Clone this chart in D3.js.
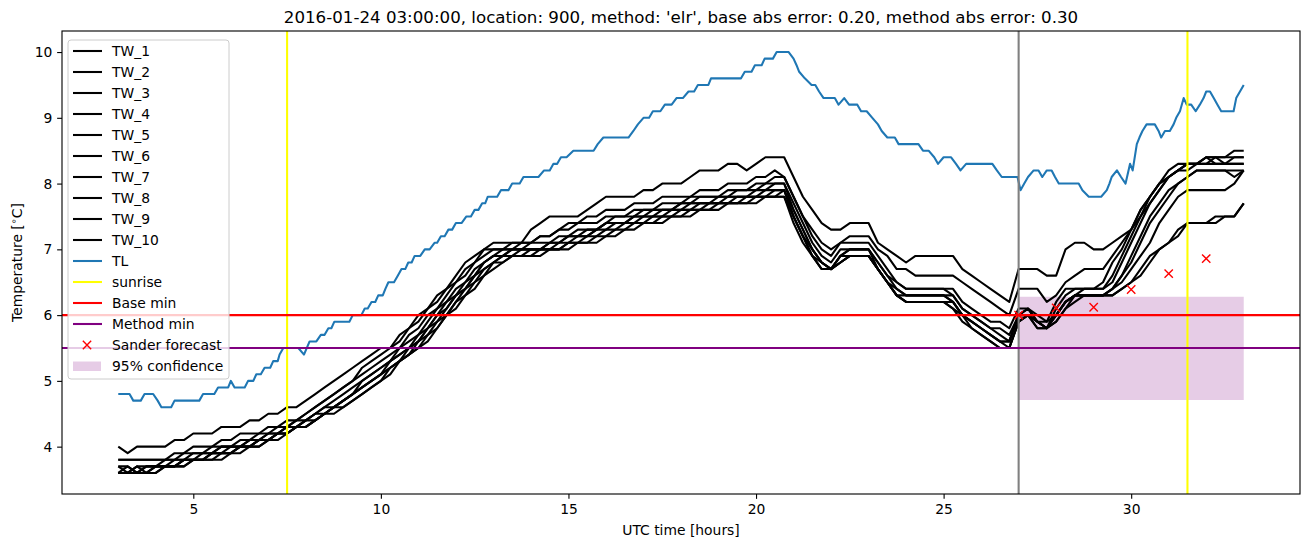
<!DOCTYPE html>
<html><head><meta charset="utf-8">
<script src="https://cdn.jsdelivr.net/npm/d3@7"></script>
<style>body{margin:0;background:#fff;} text{font-family:"DejaVu Sans",sans-serif;fill:#000;}</style>
</head><body><svg id="c" width="1310" height="547"></svg>
<script>
const titleText = "2016-01-24 03:00:00, location: 900, method: 'elr', base abs error: 0.20, method abs error: 0.30";
const xLabel = "UTC time [hours]";
const xTicks = [5, 10, 15, 20, 25, 30];
const yTicks = [4, 5, 6, 7, 8, 9, 10];

// TW series sampled every 15 minutes from 03:00 to 33:00
const twStart = 3, twStep = 0.25;
const tw1 = [4.0,3.9,4.0,4.0, 4.0,4.0,4.1,4.1, 4.2,4.2,4.2,4.3, 4.3,4.3,4.4,4.4, 4.5,4.5,4.6,4.6, 4.7,4.8,4.9,5.0, 5.1,5.2,5.3,5.4, 5.5,5.5,5.7,5.8, 6.0,6.1,6.3,6.4, 6.5,6.7,6.8,7.0, 7.1,7.1,7.1,7.1, 7.3,7.4,7.5,7.5, 7.5,7.5,7.6,7.7, 7.8,7.8,7.8,7.8, 7.9,7.9,8.0,8.0, 8.0,8.1,8.2,8.2, 8.2,8.3,8.3,8.2, 8.3,8.4,8.4,8.4, 8.1,7.8,7.6,7.4, 7.3,7.3,7.4,7.4, 7.4,7.1,7.0,6.9, 6.8,6.9,6.9,6.9, 6.9,6.9,6.7,6.6, 6.5,6.4,6.3,6.2, 6.7,6.7,6.7,6.6, 6.6,7.0,7.1,7.1, 7.0,7.0,7.1,7.2, 7.3,7.5,7.8,8.0, 8.1,8.2,8.3,8.3, 8.4,8.4,8.4,8.5, 8.5];
const tw2 = [3.8,3.8,3.8,3.8, 3.8,3.8,3.9,3.9, 4.0,4.0,4.0,4.1, 4.1,4.2,4.2,4.2, 4.3,4.3,4.4,4.4, 4.5,4.6,4.7,4.8, 4.9,5.0,5.2,5.3, 5.4,5.5,5.6,5.8, 5.9,6.1,6.2,6.4, 6.6,6.8,6.9,7.0, 7.0,7.0,7.1,7.1, 7.1,7.2,7.2,7.3, 7.4,7.4,7.5,7.5, 7.6,7.6,7.6,7.7, 7.7,7.7,7.8,7.8, 7.8,7.8,7.9,7.9, 7.9,8.0,8.0,8.0, 8.1,8.1,8.2,8.1, 7.8,7.5,7.3,7.1, 7.0,7.1,7.2,7.2, 7.2,7.0,6.9,6.7, 6.7,6.6,6.6,6.6, 6.6,6.6,6.5,6.4, 6.3,6.2,6.1,6.0, 6.4,6.4,6.4,6.2, 6.3,6.5,6.6,6.7, 6.7,6.7,6.9,7.1, 7.3,7.6,7.8,8.0, 8.1,8.2,8.2,8.3, 8.3,8.4,8.4,8.4, 8.4];
const tw3 = [3.8,3.8,3.8,3.8, 3.8,3.8,3.8,3.9, 3.9,3.9,4.0,4.0, 4.0,4.1,4.1,4.2, 4.2,4.3,4.3,4.4, 4.5,4.6,4.7,4.8, 4.9,5.0,5.1,5.2, 5.3,5.4,5.5,5.7, 5.8,6.0,6.1,6.3, 6.5,6.6,6.8,6.9, 7.0,7.0,7.0,7.1, 7.1,7.2,7.2,7.3, 7.3,7.4,7.4,7.4, 7.5,7.5,7.5,7.6, 7.6,7.6,7.7,7.7, 7.7,7.8,7.8,7.8, 7.8,7.9,7.9,7.9, 8.0,8.0,8.1,8.1, 7.8,7.5,7.2,7.0, 6.9,7.1,7.1,7.1, 7.1,6.9,6.7,6.5, 6.4,6.4,6.4,6.4, 6.4,6.4,6.2,6.1, 6.0,5.9,5.9,5.8, 6.1,6.1,6.0,5.9, 6.2,6.4,6.4,6.4, 6.4,6.5,6.8,7.0, 7.3,7.6,7.8,8.0, 8.2,8.3,8.3,8.3, 8.4,8.4,8.3,8.4, 8.4];
const tw4 = [3.7,3.7,3.6,3.7, 3.7,3.7,3.7,3.8, 3.8,3.8,3.9,3.9, 4.0,4.0,4.0,4.1, 4.1,4.2,4.3,4.3, 4.4,4.5,4.6,4.6, 4.7,4.8,5.0,5.1, 5.2,5.3,5.4,5.5, 5.7,5.8,6.0,6.2, 6.3,6.5,6.6,6.8, 6.9,6.9,7.0,7.0, 7.0,7.0,7.1,7.1, 7.2,7.2,7.3,7.3, 7.4,7.4,7.4,7.5, 7.5,7.6,7.6,7.6, 7.7,7.7,7.7,7.7, 7.8,7.8,7.8,7.8, 7.9,8.0,8.0,8.0, 7.7,7.4,7.1,6.9, 6.8,7.0,7.0,7.0, 7.0,6.8,6.6,6.5, 6.4,6.4,6.4,6.4, 6.4,6.3,6.1,6.0, 5.9,5.8,5.8,5.7, 6.0,6.1,5.9,5.8, 6.1,6.3,6.4,6.4, 6.4,6.4,6.6,6.9, 7.2,7.5,7.7,7.9, 8.1,8.2,8.3,8.3, 8.3,8.3,8.3,8.3, 8.3];
const tw5 = [3.7,3.6,3.7,3.7, 3.7,3.8,3.8,3.8, 3.9,3.9,3.9,4.0, 4.0,4.0,4.1,4.1, 4.2,4.2,4.3,4.4, 4.4,4.5,4.6,4.7, 4.8,4.9,5.0,5.1, 5.2,5.3,5.5,5.6, 5.7,5.9,6.1,6.2, 6.4,6.5,6.7,6.8, 6.9,7.0,7.0,7.0, 7.1,7.1,7.1,7.2, 7.2,7.3,7.3,7.3, 7.4,7.5,7.5,7.5, 7.6,7.6,7.6,7.6, 7.7,7.7,7.8,7.8, 7.8,7.8,7.9,7.9, 7.9,7.9,8.0,8.0, 7.6,7.3,7.0,6.8, 6.7,6.9,7.0,7.0, 7.0,6.8,6.6,6.4, 6.3,6.3,6.3,6.3, 6.3,6.3,6.1,6.0, 5.9,5.8,5.7,5.6, 6.0,6.0,5.9,5.8, 6.0,6.2,6.3,6.4, 6.4,6.4,6.5,6.8, 7.1,7.4,7.7,7.9, 8.1,8.2,8.3,8.3, 8.4,8.3,8.3,8.3, 8.3];
const tw6 = [3.6,3.7,3.6,3.6, 3.7,3.7,3.7,3.8, 3.8,3.8,3.9,3.9, 3.9,4.0,4.0,4.1, 4.1,4.2,4.2,4.3, 4.4,4.4,4.5,4.6, 4.7,4.8,4.9,5.0, 5.1,5.3,5.4,5.5, 5.6,5.8,6.0,6.1, 6.3,6.4,6.6,6.8, 6.9,6.9,7.0,7.0, 7.0,7.0,7.1,7.1, 7.2,7.2,7.2,7.3, 7.4,7.4,7.4,7.5, 7.5,7.5,7.6,7.6, 7.6,7.7,7.7,7.7, 7.7,7.8,7.8,7.8, 7.8,7.9,7.9,7.9, 7.6,7.3,7.0,6.8, 6.7,6.9,6.9,6.9, 6.9,6.7,6.5,6.4, 6.3,6.3,6.3,6.3, 6.3,6.2,6.0,5.9, 5.8,5.7,5.6,5.6, 6.0,6.0,5.9,5.8, 6.0,6.2,6.3,6.3, 6.3,6.3,6.4,6.6, 6.9,7.2,7.5,7.7, 7.9,8.0,8.1,8.2, 8.2,8.2,8.2,8.2, 8.2];
const tw7 = [3.6,3.6,3.6,3.7, 3.7,3.7,3.8,3.8, 3.8,3.9,3.9,4.0, 4.0,4.0,4.1,4.1, 4.2,4.2,4.3,4.3, 4.4,4.5,4.5,4.6, 4.7,4.8,4.9,5.0, 5.1,5.2,5.3,5.5, 5.6,5.8,5.9,6.1, 6.3,6.4,6.6,6.7, 6.8,6.9,6.9,7.0, 7.0,7.0,7.0,7.1, 7.1,7.2,7.2,7.3, 7.3,7.4,7.4,7.4, 7.5,7.5,7.5,7.6, 7.6,7.6,7.7,7.7, 7.7,7.7,7.8,7.8, 7.8,7.8,7.9,7.9, 7.5,7.2,7.0,6.8, 6.7,6.8,6.9,6.9, 6.9,6.7,6.5,6.3, 6.2,6.2,6.2,6.2, 6.2,6.2,6.0,5.9, 5.8,5.7,5.6,5.5, 5.9,6.0,5.9,5.8, 6.0,6.2,6.3,6.3, 6.3,6.3,6.4,6.6, 6.8,7.1,7.4,7.6, 7.8,8.0,8.1,8.2, 8.2,8.2,8.2,8.1, 8.2];
const tw8 = [3.6,3.6,3.7,3.6, 3.6,3.7,3.7,3.7, 3.8,3.8,3.8,3.9, 3.9,4.0,4.0,4.0, 4.1,4.2,4.2,4.3, 4.3,4.4,4.5,4.6, 4.7,4.8,4.9,5.0, 5.1,5.2,5.3,5.4, 5.6,5.7,5.9,6.0, 6.2,6.4,6.5,6.7, 6.8,6.9,6.9,6.9, 7.0,7.0,7.0,7.0, 7.1,7.1,7.2,7.2, 7.3,7.3,7.4,7.4, 7.4,7.5,7.5,7.5, 7.6,7.6,7.6,7.7, 7.7,7.7,7.7,7.8, 7.8,7.8,7.8,7.9, 7.5,7.2,6.9,6.8, 6.7,6.8,6.9,6.9, 6.9,6.7,6.5,6.3, 6.2,6.2,6.2,6.2, 6.2,6.1,6.0,5.8, 5.7,5.6,5.5,5.5, 5.9,6.0,5.8,5.8, 5.9,6.1,6.3,6.3, 6.3,6.3,6.4,6.5, 6.7,6.9,7.1,7.4, 7.6,7.8,7.9,7.9, 7.9,7.9,7.9,8.0, 8.2];
const tw9 = [3.6,3.6,3.6,3.6, 3.6,3.7,3.7,3.7, 3.8,3.8,3.8,3.8, 3.9,3.9,4.0,4.0, 4.1,4.1,4.2,4.3, 4.3,4.4,4.5,4.5, 4.6,4.7,4.8,4.9, 5.0,5.2,5.3,5.4, 5.5,5.7,5.8,6.0, 6.2,6.3,6.5,6.6, 6.8,6.8,6.9,6.9, 6.9,7.0,7.0,7.0, 7.1,7.1,7.1,7.2, 7.2,7.3,7.3,7.4, 7.4,7.4,7.5,7.5, 7.5,7.6,7.6,7.6, 7.7,7.7,7.7,7.7, 7.8,7.8,7.8,7.8, 7.5,7.2,6.9,6.7, 6.7,6.9,7.0,7.0, 7.0,6.7,6.5,6.3, 6.3,6.3,6.3,6.3, 6.3,6.2,6.0,5.9, 5.8,5.7,5.6,5.6, 6.0,6.1,5.9,5.9, 6.0,6.2,6.3,6.3, 6.3,6.3,6.3,6.4, 6.5,6.7,6.9,7.0, 7.1,7.3,7.4,7.4, 7.4,7.5,7.5,7.5, 7.7];
const tw10 = [3.6,3.6,3.6,3.6, 3.7,3.7,3.7,3.8, 3.8,3.8,3.9,3.9, 3.9,4.0,4.0,4.1, 4.1,4.2,4.2,4.3, 4.3,4.4,4.5,4.6, 4.6,4.7,4.8,4.9, 5.0,5.1,5.3,5.4, 5.5,5.6,5.8,6.0, 6.1,6.3,6.4,6.6, 6.7,6.8,6.9,6.9, 6.9,6.9,7.0,7.0, 7.0,7.1,7.1,7.1, 7.2,7.2,7.3,7.3, 7.4,7.4,7.4,7.5, 7.5,7.5,7.6,7.6, 7.6,7.7,7.7,7.7, 7.7,7.8,7.8,7.8, 7.4,7.1,6.9,6.7, 6.7,6.8,6.9,6.9, 6.9,6.7,6.5,6.3, 6.2,6.2,6.2,6.2, 6.2,6.1,5.9,5.8, 5.7,5.6,5.5,5.5, 5.9,6.0,5.8,5.8, 5.9,6.1,6.2,6.3, 6.3,6.3,6.3,6.4, 6.5,6.6,6.8,7.0, 7.1,7.2,7.4,7.4, 7.4,7.4,7.5,7.5, 7.7];
const twSeries = [tw1, tw2, tw3, tw4, tw5, tw6, tw7, tw8, tw9, tw10];

// TL (air temperature) breakpoints
const tlHours = [3.0,3.3,3.4,3.6,3.7,3.93,4.05,4.15,4.41,4.5,5.16,5.26,5.56,5.66,5.93,6.0,6.1,6.37,6.46,6.6,6.68,6.8,6.9,7.05,7.13,7.25,7.3,7.4,7.8,7.95,8.1,8.28,8.4,8.5,8.6,8.68,8.76,9.16,9.25,9.48,9.57,9.65,9.75,9.85,9.93,10.05,10.12,10.2,10.35,10.45,10.55,10.65,10.73,10.82,10.9,11.05,11.17,11.3,11.43,11.5,11.6,11.7,11.8,11.9,12.0,12.15,12.28,12.4,12.5,12.6,12.7,12.78,12.85,13.1,13.2,13.4,13.5,13.7,13.8,14.2,14.35,14.5,14.6,14.7,14.8,14.95,15.13,15.67,15.78,15.93,16.6,16.73,16.85,17.0,17.15,17.25,17.45,17.57,17.75,17.88,18.05,18.2,18.35,18.45,18.73,18.8,19.6,19.7,19.88,19.97,20.15,20.23,20.45,20.55,20.87,21.0,21.08,21.15,21.3,21.48,21.58,21.68,21.8,22.1,22.2,22.35,22.48,22.7,22.8,22.95,23.1,23.25,23.35,23.5,23.7,23.8,24.33,24.45,24.6,24.75,24.85,25.0,25.2,25.33,25.45,25.6,26.3,26.42,26.55,26.97,27.05,27.15,27.25,27.4,27.53,27.63,27.75,27.88,27.97,28.07,28.6,28.7,28.87,29.2,29.35,29.42,29.48,29.62,29.73,29.85,29.97,30.04,30.15,30.22,30.3,30.41,30.63,30.73,30.8,30.9,31.03,31.13,31.2,31.3,31.4,31.48,31.6,31.72,31.83,31.93,32.0,32.1,32.2,32.3,32.4,32.73,32.8,32.9,33.0];
const tlValues = [4.8,4.8,4.7,4.7,4.8,4.8,4.7,4.6,4.6,4.7,4.7,4.8,4.8,4.9,4.9,5.0,4.9,4.9,5.0,5.0,5.1,5.1,5.2,5.2,5.3,5.3,5.4,5.5,5.5,5.4,5.6,5.6,5.7,5.7,5.8,5.8,5.9,5.9,6.0,6.0,6.1,6.1,6.2,6.2,6.3,6.3,6.4,6.5,6.5,6.6,6.7,6.7,6.8,6.8,6.9,6.9,7.0,7.0,7.1,7.1,7.2,7.2,7.3,7.3,7.4,7.4,7.5,7.5,7.6,7.6,7.7,7.7,7.8,7.8,7.9,7.9,8.0,8.0,8.1,8.1,8.2,8.2,8.3,8.3,8.4,8.4,8.5,8.5,8.6,8.7,8.7,8.8,8.9,9.0,9.0,9.1,9.1,9.2,9.2,9.3,9.3,9.4,9.4,9.5,9.5,9.6,9.6,9.7,9.7,9.8,9.8,9.9,9.9,10.0,10.0,9.9,9.8,9.7,9.6,9.5,9.5,9.4,9.3,9.3,9.2,9.3,9.2,9.2,9.1,9.1,9.0,8.9,8.8,8.7,8.7,8.6,8.6,8.5,8.5,8.4,8.3,8.4,8.4,8.3,8.2,8.3,8.3,8.2,8.1,8.1,7.9,8.0,8.1,8.2,8.2,8.1,8.2,8.2,8.1,8.0,8.0,7.9,7.8,7.8,7.9,8.0,8.1,8.2,8.1,8.0,8.3,8.2,8.6,8.7,8.8,8.9,8.9,8.8,8.7,8.8,8.8,8.9,9.0,9.1,9.3,9.2,9.2,9.1,9.2,9.3,9.4,9.4,9.3,9.2,9.1,9.1,9.3,9.4,9.5];

const sunriseHours = [7.5, 31.5];
const forecastStartHour = 27;
const baseMin = 6.0;
const methodMin = 5.5;
const sanderHours = [27, 28, 29, 30, 31, 32];
const sanderValues = [6.0, 6.11, 6.12, 6.39, 6.63, 6.86];
const confHours = [27, 33];
const confLow = 4.71;
const confHigh = 6.28;

const legendLabels = ["TW_1","TW_2","TW_3","TW_4","TW_5","TW_6","TW_7","TW_8","TW_9","TW_10","TL","sunrise","Base min","Method min","Sander forecast","95% confidence"];

// ---------- drawing ----------
const svg = d3.select("#c");
const L = 62, R = 1300, T = 31, B = 494;
const x = d3.scaleLinear().domain([1.5, 34.5]).range([L, R]);
const y = d3.scaleLinear().domain([3.28, 10.32]).range([B, T]);
const FS = 13.89;
const LW = 2.08;

svg.append("defs").append("clipPath").attr("id","clip")
  .append("rect").attr("x",L).attr("y",T).attr("width",R-L).attr("height",B-T);
const plot = svg.append("g").attr("clip-path","url(#clip)");

// confidence band
plot.append("path")
  .datum(confHours)
  .attr("d", d3.area().x(d => x(d)).y0(() => y(confLow)).y1(() => y(confHigh)))
  .attr("fill", "#800080").attr("fill-opacity", 0.2);

const line = d3.line().x(d => x(d[0])).y(d => y(d[1]));
twSeries.forEach(s => {
  const pts = s.map((v, i) => [twStart + i * twStep, v]);
  plot.append("path").attr("d", line(pts)).attr("fill","none")
    .attr("stroke","#000").attr("stroke-width",LW).attr("stroke-linejoin","round");
});
plot.append("path").attr("d", line(tlHours.map((h, i) => [h, tlValues[i]])))
  .attr("fill","none").attr("stroke","#1f77b4").attr("stroke-width",LW).attr("stroke-linejoin","round");

// vertical lines
sunriseHours.forEach(h => plot.append("line").attr("x1",x(h)).attr("x2",x(h)).attr("y1",T).attr("y2",B)
  .attr("stroke","#ffff00").attr("stroke-width",LW));
plot.append("line").attr("x1",x(forecastStartHour)).attr("x2",x(forecastStartHour)).attr("y1",T).attr("y2",B)
  .attr("stroke","#808080").attr("stroke-width",LW);
// horizontal lines
plot.append("line").attr("x1",L).attr("x2",R).attr("y1",y(baseMin)).attr("y2",y(baseMin))
  .attr("stroke","#ff0000").attr("stroke-width",LW);
plot.append("line").attr("x1",L).attr("x2",R).attr("y1",y(methodMin)).attr("y2",y(methodMin))
  .attr("stroke","#800080").attr("stroke-width",LW);

// sander markers
const ms = 4.17;
sanderHours.forEach((h, i) => {
  const cx = x(h), cy = y(sanderValues[i]);
  plot.append("path").attr("d", `M${cx-ms},${cy-ms}L${cx+ms},${cy+ms}M${cx-ms},${cy+ms}L${cx+ms},${cy-ms}`)
    .attr("stroke","#ff0000").attr("stroke-width",1.39).attr("fill","none");
});

// axes
const xa = svg.append("g").attr("transform",`translate(0,${B})`)
  .call(d3.axisBottom(x).tickValues(xTicks).tickSize(4.86).tickPadding(4.86).tickFormat(d3.format("d")));
const ya = svg.append("g").attr("transform",`translate(${L},0)`)
  .call(d3.axisLeft(y).tickValues(yTicks).tickSize(4.86).tickPadding(4.86).tickFormat(d3.format("d")));
[xa, ya].forEach(a => {
  a.select(".domain").remove();
  a.selectAll(".tick line").attr("stroke","#000").attr("stroke-width",1.11);
  a.selectAll(".tick text").attr("font-size",FS).attr("font-family","DejaVu Sans").attr("fill","#000");
});
// frame
svg.append("rect").attr("x",L).attr("y",T).attr("width",R-L).attr("height",B-T)
  .attr("fill","none").attr("stroke","#000").attr("stroke-width",1.11);

// labels
svg.append("text").attr("x",(L+R)/2).attr("y",23).attr("text-anchor","middle")
  .attr("font-size",16.67).text(titleText);
svg.append("text").attr("x",(L+R)/2).attr("y",535).attr("text-anchor","middle")
  .attr("font-size",FS).text(xLabel);
const yl = svg.append("text").attr("transform",`translate(22,${(T+B)/2}) rotate(-90)`)
  .attr("text-anchor","middle").attr("font-size",FS);
yl.append("tspan").text("Temperature [");
yl.append("tspan").attr("font-size",9.7).attr("dy",-5).text("\u2218");
yl.append("tspan").attr("dy",5).text("C]");

// legend
const lg = svg.append("g");
lg.append("rect").attr("x",68).attr("y",40).attr("width",161).attr("height",339).attr("rx",3)
  .attr("fill","#fff").attr("fill-opacity",0.8).attr("stroke","#cccccc").attr("stroke-width",1);
const rowY = i => 51 + i * 21.0;
const legendColors = ["#000","#000","#000","#000","#000","#000","#000","#000","#000","#000","#1f77b4","#ffff00","#ff0000","#800080"];
legendLabels.forEach((lab, i) => {
  const cy = rowY(i);
  if (i < 14) {
    lg.append("line").attr("x1",73).attr("x2",102).attr("y1",cy).attr("y2",cy)
      .attr("stroke",legendColors[i]).attr("stroke-width",LW);
  } else if (i === 14) {
    lg.append("path").attr("d",`M${87-ms},${cy-ms}L${87+ms},${cy+ms}M${87-ms},${cy+ms}L${87+ms},${cy-ms}`)
      .attr("stroke","#ff0000").attr("stroke-width",1.39);
  } else {
    lg.append("rect").attr("x",73).attr("y",cy-4.5).attr("width",28).attr("height",9.5)
      .attr("fill","#800080").attr("fill-opacity",0.2);
  }
  lg.append("text").attr("x",112).attr("y",cy).attr("dy","0.36em").attr("font-size",FS).text(lab);
});
</script></body></html>
